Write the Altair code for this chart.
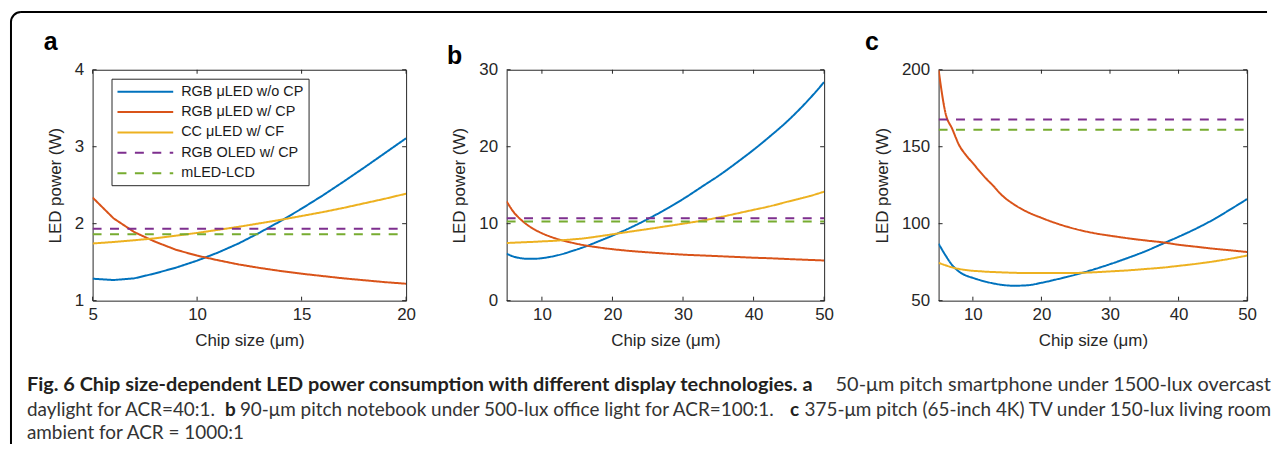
import altair as alt
import pandas as pd

# ---------------- data ----------------
SERIES = ["RGB μLED w/o CP", "RGB μLED w/ CP", "CC μLED w/ CF", "RGB OLED w/ CP", "mLED-LCD"]
COLORS = ["#0072BD", "#D95319", "#EDB120", "#7E2F8E", "#77AC30"]
DASHES = [[1, 0], [1, 0], [1, 0], [9, 8.5], [9, 8.5]]

PANEL_LETTERS = ["a", "b", "c"]
X_TITLE = "Chip size (μm)"
Y_TITLE = "LED power (W)"

# panel a (50-um pitch smartphone)
A_X = [5, 6, 7, 8, 9, 10, 11, 12, 13, 14, 15, 16, 17, 18, 19, 20]
A_BLUE = [1.285, 1.268, 1.29, 1.355, 1.43, 1.52, 1.625, 1.745, 1.885, 2.035, 2.195, 2.365, 2.545, 2.73, 2.92, 3.11]
A_RED = [2.34, 2.07, 1.89, 1.765, 1.66, 1.585, 1.525, 1.47, 1.425, 1.385, 1.35, 1.32, 1.29, 1.265, 1.24, 1.22]
A_YEL = [1.743, 1.762, 1.785, 1.81, 1.845, 1.88, 1.92, 1.96, 2.005, 2.05, 2.10, 2.15, 2.205, 2.265, 2.325, 2.39]
A_OLED = 1.933
A_LCD = 1.864
A_XDOM = [5, 20]
A_YDOM = [1, 4]
A_XTICKS = [5, 10, 15, 20]
A_YTICKS = [1, 2, 3, 4]

# panel b (90-um pitch notebook)
B_X = [5, 6, 7, 8, 9, 10, 11, 12, 13, 14, 16, 18, 20, 22, 25, 28, 30, 33, 35, 38, 40, 42, 45, 48, 50]
B_BLUE = [6.11, 5.72, 5.52, 5.43, 5.44, 5.52, 5.66, 5.85, 6.08, 6.37, 6.98, 7.7, 8.45, 9.25, 10.6, 12.1, 13.2,
          15.0, 16.2, 18.2, 19.6, 21.1, 23.5, 26.3, 28.4]
B_RED = [12.9, 11.5, 10.54, 9.8, 9.22, 8.76, 8.38, 8.07, 7.8, 7.58, 7.2, 6.92, 6.69, 6.5, 6.28, 6.09, 5.98,
         5.86, 5.78, 5.66, 5.58, 5.52, 5.4, 5.29, 5.22]
B_YEL = [7.49, 7.53, 7.57, 7.61, 7.65, 7.7, 7.74, 7.79, 7.86, 7.93, 8.1, 8.35, 8.62, 8.9, 9.3, 9.72, 10.0,
         10.45, 10.8, 11.4, 11.8, 12.2, 12.9, 13.6, 14.16]
B_OLED = 10.72
B_LCD = 10.29
B_XDOM = [5, 50]
B_YDOM = [0, 30]
B_XTICKS = [10, 20, 30, 40, 50]
B_YTICKS = [0, 10, 20, 30]

# panel c (375-um pitch TV)
C_X = [5, 6, 7, 8, 9, 10, 11, 12, 13, 14, 16, 18, 20, 22, 25, 28, 30, 33, 35, 38, 40, 42, 45, 48, 50]
C_BLUE = [87, 79.5, 73, 68.8, 66.3, 64.8, 63.4, 62.2, 61.2, 60.4, 59.7, 60.0, 61.6, 63.6, 66.9, 70.8, 73.7,
          78.4, 81.8, 87.6, 91.5, 95.6, 102.5, 110.5, 116]
C_RED = [200, 172, 161.5, 151, 144.5, 139.3, 134, 129, 124.5, 119.5, 112.5, 107.5, 103.8, 100.5, 96.5, 93.6,
         92.2, 90.3, 89.2, 87.7, 86.3, 85.3, 83.8, 82.5, 81.6]
C_YEL = [74.6, 73.0, 71.6, 70.6, 69.9, 69.4, 69.1, 68.8, 68.6, 68.4, 68.1, 67.9, 67.9, 67.9, 68.0, 68.5, 69.0,
         69.8, 70.5, 71.6, 72.6, 73.6, 75.4, 77.6, 79.3]
C_OLED = 167.7
C_LCD = 161.1
C_XDOM = [5, 50]
C_YDOM = [50, 200]
C_XTICKS = [10, 20, 30, 40, 50]
C_YTICKS = [50, 100, 150, 200]

# caption text pieces
CAP_L1_BOLD = "Fig. 6 Chip size-dependent LED power consumption with different display technologies. a"
CAP_L1_REG = "50-μm pitch smartphone under 1500-lux overcast"
CAP_L2_REG1 = "daylight for ACR=40:1."
CAP_L2_B = "b"
CAP_L2_REG2 = "90-μm pitch notebook under 500-lux office light for ACR=100:1."
CAP_L2_C = "c"
CAP_L2_REG3 = "375-μm pitch (65-inch 4K) TV under 150-lux living room"
CAP_L3_REG = "ambient for ACR = 1000:1"

# ---------------- styling ----------------
AXC = "#262626"
FONT = "Liberation Sans"
CAP_FONT = "Lato"
H = 232
TL = 4  # inward tick length


def panel_frame(x, blue, red, yellow, oled, lcd, xdom):
    rows = []
    for name, ys in zip(SERIES[:3], [blue, red, yellow]):
        for xv, yv in zip(x, ys):
            rows.append({"x": xv, "y": yv, "series": name})
    for name, c in zip(SERIES[3:], [oled, lcd]):
        for xv in xdom:
            rows.append({"x": xv, "y": c, "series": name})
    return pd.DataFrame(rows)


def make_panel(x, blue, red, yellow, oled, lcd, xdom, ydom, xticks, yticks, width,
               letter, ldx, ldy, with_legend, interp):
    df = panel_frame(x, blue, red, yellow, oled, lcd, xdom)
    xs = alt.Scale(domain=xdom, nice=False, zero=False)
    ys = alt.Scale(domain=ydom, nice=False, zero=False)
    xax = alt.Axis(values=xticks, title=X_TITLE, format="d")
    yax = alt.Axis(values=yticks, title=Y_TITLE, format="d")
    if with_legend:
        leg = alt.Legend(
            title=None, orient="none", legendX=19, legendY=9,
            symbolType="M-1,0H7", symbolSize=196, symbolStrokeWidth=2,
            labelOffset=49, labelFont=FONT, labelFontSize=14.5, labelColor="#1a1a1a",
            strokeColor=AXC, fillColor="white", padding=5, rowPadding=5.5,
        )
    else:
        leg = None
    lines = alt.Chart(df).mark_line(strokeWidth=2, interpolate=interp, clip=True).encode(
        x=alt.X("x:Q", scale=xs, axis=xax),
        y=alt.Y("y:Q", scale=ys, axis=yax),
        color=alt.Color("series:N", scale=alt.Scale(domain=SERIES, range=COLORS), legend=leg),
        strokeDash=alt.StrokeDash("series:N", scale=alt.Scale(domain=SERIES, range=DASHES), legend=leg),
    )
    xt = pd.DataFrame({"x": xticks})
    yt = pd.DataFrame({"y": yticks})
    tick_top = alt.Chart(xt).mark_rule(color=AXC, strokeWidth=1).encode(
        x=alt.X("x:Q", scale=xs, axis=xax), y=alt.value(0), y2=alt.value(TL))
    tick_bot = alt.Chart(xt).mark_rule(color=AXC, strokeWidth=1).encode(
        x=alt.X("x:Q", scale=xs, axis=xax), y=alt.value(H), y2=alt.value(H - TL))
    tick_l = alt.Chart(yt).mark_rule(color=AXC, strokeWidth=1).encode(
        y=alt.Y("y:Q", scale=ys, axis=yax), x=alt.value(0), x2=alt.value(TL))
    tick_r = alt.Chart(yt).mark_rule(color=AXC, strokeWidth=1).encode(
        y=alt.Y("y:Q", scale=ys, axis=yax), x=alt.value(width), x2=alt.value(width - TL))
    lab = alt.Chart(pd.DataFrame({"t": [letter]})).mark_text(
        font=FONT, fontSize=25, fontWeight="bold", align="left", baseline="alphabetic", color="black"
    ).encode(text="t:N", x=alt.value(ldx), y=alt.value(ldy))
    return alt.layer(lines, tick_top, tick_bot, tick_l, tick_r, lab).properties(
        width=width, height=H, view=alt.ViewBackground(stroke=AXC, strokeWidth=1))


pa = make_panel(A_X, A_BLUE, A_RED, A_YEL, A_OLED, A_LCD, A_XDOM, A_YDOM, A_XTICKS, A_YTICKS, 315,
                PANEL_LETTERS[0], -49, -20, True, "linear")
pb = make_panel(B_X, B_BLUE, B_RED, B_YEL, B_OLED, B_LCD, B_XDOM, B_YDOM, B_XTICKS, B_YTICKS, 319,
                PANEL_LETTERS[1], -60, -6, False, "monotone")
pc = make_panel(C_X, C_BLUE, C_RED, C_YEL, C_OLED, C_LCD, C_XDOM, C_YDOM, C_XTICKS, C_YTICKS, 310,
                PANEL_LETTERS[2], -74, -20, False, "monotone")

panels = alt.hconcat(pa, pb, pc, spacing=30).resolve_scale(
    color="independent", strokeDash="independent").resolve_legend(
    color="independent", strokeDash="independent")

# ---------------- caption + frame ----------------
one = pd.DataFrame({"k": [0]})


def cap(text, xpos, ypos, bold, size, align="left"):
    return alt.Chart(pd.DataFrame({"t": [text]})).mark_text(
        font=CAP_FONT, fontSize=size, fontWeight="bold" if bold else "normal",
        align=align, baseline="middle", color="#231F20" if bold else "#333333"
    ).encode(text="t:N", x=alt.value(xpos), y=alt.value(ypos))


FX, FY, R = -82, -360, 10
frame_top = alt.Chart(one).mark_rule(color="black", strokeWidth=2).encode(
    x=alt.value(FX + R), x2=alt.value(1180), y=alt.value(FY))
frame_left = alt.Chart(one).mark_rule(color="black", strokeWidth=2).encode(
    x=alt.value(FX), y=alt.value(FY + R), y2=alt.value(74))
frame_corner = alt.Chart(one).mark_arc(
    color="black", radius=R + 1, radius2=R - 1, theta=4.7124, theta2=6.2832
).encode(x=alt.value(FX + R), y=alt.value(FY + R))

RIGHT = 1184
S1, S2 = 20, 19
caption = alt.layer(
    frame_top, frame_left, frame_corner,
    cap(CAP_L1_BOLD, -66, 15, True, S1),
    cap(CAP_L1_REG, RIGHT, 15, False, S1, "right"),
    cap(CAP_L2_REG1, -66, 40, False, S2),
    cap(CAP_L2_B, 133, 40, True, S2),
    cap(CAP_L2_REG2, 148, 40, False, S2),
    cap(CAP_L2_C, 710, 40, True, S2, "right"),
    cap(CAP_L2_REG3, RIGHT, 40, False, S2, "right"),
    cap(CAP_L3_REG, -66, 63, False, S2),
).properties(width=1180, height=74, view=alt.ViewBackground(stroke="transparent"))

chart = alt.vconcat(panels, caption, spacing=-341).properties(padding=1).configure_view(
    stroke=AXC, strokeWidth=1
).configure_axis(
    labelFont=FONT, titleFont=FONT, labelFontSize=17, titleFontSize=17, titleFontWeight="normal",
    labelColor=AXC, titleColor=AXC, grid=False, domain=False, ticks=False, tickSize=0,
    labelFlush=False, labelOverlap=False
).configure_axisX(labelPadding=6, titlePadding=10).configure_axisY(labelPadding=9, titlePadding=10)

chart.save("out.html", embed_options={"renderer": "svg", "actions": False})
